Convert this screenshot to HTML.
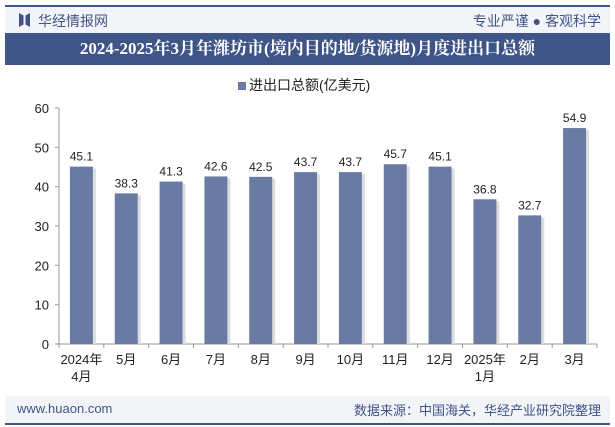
<!DOCTYPE html>
<html><head><meta charset="utf-8"><style>
body{margin:0;width:615px;height:427px;background:#fff;font-family:"Liberation Sans","Noto Sans CJK SC",sans-serif;overflow:hidden;position:relative}
.abs{position:absolute}
</style></head><body>
<div class="abs" style="left:5px;top:5px;width:605px;height:2px;background:#3f5487"></div>
<div class="abs" style="left:5px;top:7px;width:605px;height:26px;background:#f3f4f8"></div>
<svg class="abs" style="left:19px;top:13px" width="11" height="14"><polygon points="0,0 4.5,2.5 4.5,11.5 0,14" fill="#3f5487"/><polygon points="11,0 6.5,2.5 6.5,11.5 11,14" fill="#3f5487"/></svg>
<div class="abs" style="left:38px;top:11px;font-size:14px;color:#3f5487">华经情报网</div>
<div class="abs" style="right:14px;top:11px;font-size:14px;color:#3f5487">专业严谨 ● 客观科学</div>
<div class="abs" style="left:5px;top:33px;width:605px;height:32px;background:#3f5487;color:#fff;font-family:'Liberation Serif','Noto Serif CJK SC',serif;font-weight:bold;font-size:17px;line-height:32px;text-align:center">2024-2025年3月年潍坊市(境内目的地/货源地)月度进出口总额</div>
<div class="abs" style="left:238px;top:75px;font-size:14px;color:#222"><span style="display:inline-block;width:8px;height:8px;background:#6a7ba3;margin-right:3px"></span>进出口总额(亿美元)</div>
<svg class="abs" style="left:0;top:0" width="615" height="427" id="chart"></svg>
<div class="abs" style="left:5px;top:396px;width:605px;height:27px;background:#f3f4f8"></div>
<div class="abs" style="left:5px;top:423px;width:605px;height:2px;background:#3f5487"></div>
<div class="abs" style="left:17px;top:401px;font-size:13px;color:#3f5487">www.huaon.com</div>
<div class="abs" style="right:14px;top:400px;font-size:13px;color:#3f5487">数据来源：中国海关，华经产业研究院整理</div>
<script>
const categories=["2024年\n4月","5月","6月","7月","8月","9月","10月","11月","12月","2025年\n1月","2月","3月"];
const values=[45.1,38.3,41.3,42.6,42.5,43.7,43.7,45.7,45.1,36.8,32.7,54.9];
const yTicks=[0,10,20,30,40,50,60];
const svg=document.getElementById('chart');const NS='http://www.w3.org/2000/svg';
const x0=59,x1=597,yb=344,yt=108,ymax=60;
const step=(x1-x0)/categories.length;
const y=v=>yb-(v/ymax)*(yb-yt);
const cx=i=>x0+step*(i+0.5);
function mk(t,a){const e=document.createElementNS(NS,t);for(const k in a)e.setAttribute(k,a[k]);svg.appendChild(e);return e;}
let ax=mk('line',{x1:x0,y1:yt,x2:x0,y2:yb,stroke:'#999'});

yTicks.forEach(t=>{
 let tk=mk('line',{x1:x0-4,y1:y(t),x2:x0,y2:y(t),stroke:'#999'});
 
 let l=mk('text',{x:x0-10,y:y(t)+5,'text-anchor':'end','font-size':13,fill:'#222'});l.textContent=t;
 
});
let xa=mk('line',{x1:x0,y1:yb,x2:x1,y2:yb,stroke:'#999'});

categories.forEach((c,i)=>{
 let tk=mk('line',{x1:x0+step*i,y1:yb,x2:x0+step*i,y2:yb+4,stroke:'#999'});
 
 if(i==categories.length-1){let e=mk('line',{x1:x1,y1:yb,x2:x1,y2:yb+4,stroke:'#999'});}
 const v=values[i],w=23;
 let sh=mk('rect',{x:cx(i)+w/2,y:y(v)+2,width:3,height:yb-y(v)-2,fill:'#ddd'});
 
 let b=mk('rect',{x:cx(i)-w/2,y:y(v),width:w,height:yb-y(v),fill:'#6a7ba3'});
 
 let vl=mk('text',{x:cx(i),y:y(v)-6,'text-anchor':'middle','font-size':12,fill:'#222'});vl.textContent=v.toFixed(1);
 
 c.split('\n').forEach((ln,j)=>{
  let t=mk('text',{x:cx(i),y:yb+20+j*17,'text-anchor':'middle','font-size':13,fill:'#222'});t.textContent=ln;
  
 });
});
</script>
</body></html>
